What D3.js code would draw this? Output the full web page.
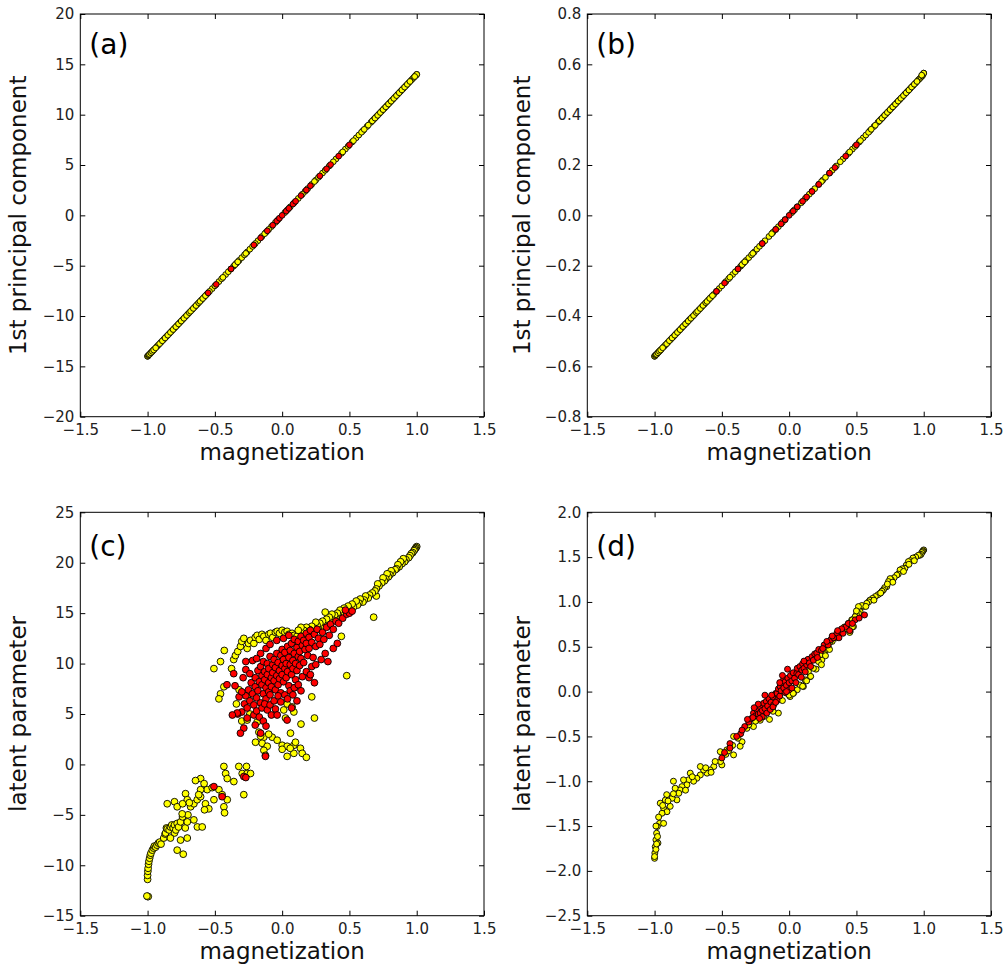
<!DOCTYPE html>
<html>
<head>
<meta charset="utf-8">
<script src="https://cdn.jsdelivr.net/npm/d3@7"></script>
<style>
  html, body { margin: 0; padding: 0; background: #ffffff; }
  svg { display: block; }
  text { font-family: "DejaVu Sans", sans-serif; }
</style>
</head>
<body>
<svg id="chart" width="1004" height="969"></svg>
<script>
// ---------------- DATA ----------------
const xTicks = [-1.5, -1.0, -0.5, 0.0, 0.5, 1.0, 1.5];
const yTicksA = [-20, -15, -10, -5, 0, 5, 10, 15, 20];
const yTicksB = [-0.8, -0.6, -0.4, -0.2, 0.0, 0.2, 0.4, 0.6, 0.8];
const yTicksC = [-15, -10, -5, 0, 5, 10, 15, 20, 25];
const yTicksD = [-2.5, -2.0, -1.5, -1.0, -0.5, 0.0, 0.5, 1.0, 1.5, 2.0];

const panelLabels = ["(a)", "(b)", "(c)", "(d)"];
const xLabel = "magnetization";
const yLabels = ["1st principal component", "1st principal component", "latent parameter", "latent parameter"];

// (a) magnetization vs 1st principal component
const yellowA = [
  [-1.0,-14.0],[-1.0,-14.0],[-0.995,-13.93],[-0.99,-13.86],[-0.98,-13.72],[-0.97,-13.58],[-0.96,-13.44],[-0.95,-13.3],
  [-0.93,-13.02],[-0.92,-12.88],[-0.9,-12.6],[-0.88,-12.32],[-0.86,-12.04],[-0.84,-11.76],[-0.82,-11.48],[-0.8,-11.2],
  [-0.78,-10.92],[-0.76,-10.64],[-0.74,-10.36],[-0.72,-10.08],[-0.7,-9.8],[-0.67,-9.38],[-0.65,-9.1],[-0.63,-8.82],
  [-0.6,-8.4],[-0.58,-8.12],[-0.56,-7.84],[-0.52,-7.28],[-0.47,-6.58],[-0.45,-6.3],[-0.42,-5.88],[-0.4,-5.6],
  [-0.36,-5.04],[-0.34,-4.76],[-0.32,-4.48],[-0.3,-4.2],[-0.28,-3.92],[-0.26,-3.64],[-0.24,-3.36],[-0.18,-2.52],
  [-0.15,-2.1],[-0.12,-1.68],[-0.08,-1.12],[-0.05,-0.7],[0.02,0.28],[0.06,0.84],[0.12,1.68],[0.17,2.38],
  [0.22,3.08],[0.25,3.5],[0.3,4.2],[0.35,4.9],[0.4,5.6],[0.44,6.16],[0.47,6.58],[0.52,7.28],
  [0.55,7.7],[0.57,7.98],[0.6,8.4],[0.63,8.82],[0.66,9.24],[0.68,9.52],[0.7,9.8],[0.72,10.08],
  [0.74,10.36],[0.76,10.64],[0.78,10.92],[0.8,11.2],[0.82,11.48],[0.84,11.76],[0.86,12.04],[0.88,12.32],
  [0.9,12.6],[0.92,12.88],[0.94,13.16],[0.96,13.44],[0.97,13.58],[0.98,13.72],[0.99,13.86],[0.995,13.93],
  [1.0,14.0],[1.0,14.0],
  [-0.985,-13.79],[-0.975,-13.65],[-0.965,-13.51],[-0.955,-13.37],[-0.94,-13.16],[-0.91,-12.74],[-0.89,-12.46],[-0.87,-12.18],
  [-0.85,-11.9],[-0.83,-11.62],[-0.81,-11.34],[-0.79,-11.06],[-0.77,-10.78],[-0.75,-10.5],[-0.73,-10.22],[-0.71,-9.94],
  [-0.69,-9.66],[-0.68,-9.52],[-0.66,-9.24],[-0.64,-8.96],[-0.62,-8.68],[-0.61,-8.54],[-0.59,-8.26],[-0.57,-7.98],
  [-0.54,-7.56],[-0.5,-7.0],[-0.44,-6.16],[-0.38,-5.32],[-0.35,-4.9],[-0.33,-4.62],[-0.27,-3.78],[-0.22,-3.08],
  [-0.2,-2.8],[-0.13,-1.82],[-0.1,-1.4],[-0.03,-0.42],[0.04,0.56],[0.09,1.26],[0.15,2.1],[0.19,2.66],
  [0.24,3.36],[0.27,3.78],[0.32,4.48],[0.38,5.32],[0.45,6.3],[0.49,6.86],[0.53,7.42],[0.59,8.26],
  [0.61,8.54],[0.64,8.96],[0.67,9.38],[0.69,9.66],[0.71,9.94],[0.73,10.22],[0.75,10.5],[0.77,10.78],
  [0.79,11.06],[0.81,11.34],[0.83,11.62],[0.85,11.9],[0.87,12.18],[0.89,12.46],[0.91,12.74],[0.93,13.02],
  [0.95,13.3],[0.985,13.79]
];
const redA = [
  [-0.55,-7.7],[-0.49,-6.86],[-0.38,-5.32],[-0.21,-2.94],[-0.16,-2.24],[-0.11,-1.54],[-0.07,-0.98],[-0.04,-0.56],
  [-0.02,-0.28],[0.0,0.0],[0.03,0.42],[0.05,0.7],[0.08,1.12],[0.1,1.4],[0.14,1.96],[0.18,2.52],
  [0.21,2.94],[0.28,3.92],[0.33,4.62],[0.36,5.04],[0.42,5.88],[0.5,7.0]
];

// (b) magnetization vs 1st principal component (normalised)
const yellowB = [
  [-1.0,-0.56],[-1.0,-0.56],[-0.995,-0.557],[-0.99,-0.554],[-0.98,-0.549],[-0.97,-0.543],[-0.96,-0.538],[-0.95,-0.532],
  [-0.93,-0.521],[-0.92,-0.515],[-0.9,-0.504],[-0.88,-0.493],[-0.86,-0.482],[-0.84,-0.470],[-0.82,-0.459],[-0.8,-0.448],
  [-0.78,-0.437],[-0.76,-0.426],[-0.74,-0.414],[-0.72,-0.403],[-0.7,-0.392],[-0.67,-0.375],[-0.65,-0.364],[-0.63,-0.353],
  [-0.6,-0.336],[-0.58,-0.325],[-0.56,-0.314],[-0.52,-0.291],[-0.47,-0.263],[-0.45,-0.252],[-0.42,-0.235],[-0.4,-0.224],
  [-0.36,-0.202],[-0.34,-0.190],[-0.32,-0.179],[-0.3,-0.168],[-0.28,-0.157],[-0.26,-0.146],[-0.24,-0.134],[-0.18,-0.101],
  [-0.15,-0.084],[-0.12,-0.067],[-0.08,-0.045],[-0.05,-0.028],[0.02,0.011],[0.06,0.034],[0.12,0.067],[0.17,0.095],
  [0.22,0.123],[0.25,0.14],[0.3,0.168],[0.35,0.196],[0.4,0.224],[0.44,0.246],[0.47,0.263],[0.52,0.291],
  [0.55,0.308],[0.57,0.319],[0.6,0.336],[0.63,0.353],[0.66,0.37],[0.68,0.381],[0.7,0.392],[0.72,0.403],
  [0.74,0.414],[0.76,0.426],[0.78,0.437],[0.8,0.448],[0.82,0.459],[0.84,0.47],[0.86,0.482],[0.88,0.493],
  [0.9,0.504],[0.92,0.515],[0.94,0.526],[0.96,0.538],[0.97,0.543],[0.98,0.549],[0.99,0.554],[0.995,0.56],
  [1.0,0.565],[1.0,0.565],
  [-0.985,-0.552],[-0.975,-0.546],[-0.965,-0.540],[-0.955,-0.535],[-0.94,-0.526],[-0.91,-0.510],[-0.89,-0.498],[-0.87,-0.487],
  [-0.85,-0.476],[-0.83,-0.465],[-0.81,-0.454],[-0.79,-0.442],[-0.77,-0.431],[-0.75,-0.42],[-0.73,-0.409],[-0.71,-0.398],
  [-0.69,-0.386],[-0.68,-0.381],[-0.66,-0.370],[-0.64,-0.358],[-0.62,-0.347],[-0.61,-0.342],[-0.59,-0.330],[-0.57,-0.319],
  [-0.54,-0.302],[-0.5,-0.28],[-0.44,-0.246],[-0.38,-0.213],[-0.35,-0.196],[-0.33,-0.185],[-0.27,-0.151],[-0.22,-0.123],
  [-0.2,-0.112],[-0.13,-0.073],[-0.1,-0.056],[-0.03,-0.017],[0.04,0.022],[0.09,0.05],[0.15,0.084],[0.19,0.106],
  [0.24,0.134],[0.27,0.151],[0.32,0.179],[0.38,0.213],[0.45,0.252],[0.49,0.274],[0.53,0.297],[0.59,0.330],
  [0.61,0.342],[0.64,0.358],[0.67,0.375],[0.69,0.386],[0.71,0.398],[0.73,0.409],[0.75,0.42],[0.77,0.431],
  [0.79,0.442],[0.81,0.454],[0.83,0.465],[0.85,0.476],[0.87,0.487],[0.89,0.498],[0.91,0.510],[0.93,0.521],
  [0.95,0.532],[0.985,0.557]
];
const redB = [
  [-0.54,-0.302],[-0.48,-0.269],[-0.38,-0.213],[-0.2,-0.112],[-0.1,-0.056],[-0.06,-0.034],[-0.03,-0.017],[0.0,0.0],
  [0.03,0.017],[0.06,0.034],[0.1,0.056],[0.13,0.073],[0.17,0.095],[0.22,0.123],[0.3,0.168],[0.34,0.19],
  [0.42,0.235],[0.5,0.28]
];

// (c) magnetization vs latent parameter (network 1)
const yellowC = [
  [1.0,21.6],[0.995,21.5],[0.99,21.4],[0.985,21.3],[0.98,21.2],[0.97,21.0],[0.96,20.9],[0.95,20.7],[0.94,20.5],
  [0.92,20.3],[0.91,20.1],[0.9,20.4],[0.89,19.9],[0.88,20.1],[0.87,19.6],[0.86,19.8],[0.85,19.4],[0.84,19.3],
  [0.82,19.0],[0.81,19.2],[0.8,18.8],[0.79,18.6],[0.78,18.9],[0.77,18.4],[0.76,18.2],[0.75,18.5],[0.74,18.0],
  [0.72,17.7],[0.71,17.9],[0.7,17.4],[0.7,16.7],[0.69,17.2],[0.68,14.6],[0.67,17.0],[0.65,16.8],[0.64,16.5],
  [0.62,16.7],[0.61,16.3],[0.6,16.1],[0.58,16.4],[0.57,16.0],[0.56,15.8],[0.55,16.2],[0.53,15.6],[0.52,15.9],
  [0.5,15.4],[0.49,15.7],[0.48,8.8],[0.47,15.1],[0.46,15.5],[0.45,14.9],[0.44,12.7],[0.43,15.3],[0.42,14.7],
  [0.41,15.0],[0.4,14.5],[0.39,14.8],[0.38,14.3],[0.37,14.9],[0.36,14.1],[0.35,14.6],[0.34,13.9],[0.33,14.4],
  [0.32,15.1],[0.31,13.8],[0.3,14.2],[0.29,13.6],[0.28,14.0],[0.27,13.4],[0.26,13.8],[0.25,14.1],[0.24,13.5],
  [0.23,13.2],[0.22,13.7],[0.21,13.0],[0.2,13.4],[0.19,13.1],[0.18,13.6],[0.17,12.9],[0.16,13.3],[0.14,13.6],
  [0.22,6.7],[0.24,4.6],[0.14,4.0],[0.09,7.6],
  [-0.36,10.4],[-0.347,10.8],[-0.33,11.2],[-0.31,11.7],[-0.3,12.2],[-0.285,12.5],[-0.26,11.5],[-0.25,12.0],
  [-0.235,12.3],[-0.21,12.0],[-0.2,12.6],[-0.186,12.8],[-0.17,12.4],[-0.15,12.9],[-0.136,12.7],[-0.12,12.3],
  [-0.1,12.9],[-0.087,13.0],[-0.07,12.6],[-0.05,13.1],[-0.037,13.2],[-0.02,13.0],[0.0,13.3],[0.02,13.1],
  [0.037,13.2],[0.05,12.9],[0.074,13.0],[0.09,12.8],[0.11,12.7],[0.12,13.3],
  [-0.43,11.3],[-0.458,10.2],[-0.507,9.5],[-0.376,9.5],[-0.433,7.7],[-0.458,7.0],[-0.47,6.5],[-0.32,7.4],
  [-0.34,6.0],[-0.3,4.3],[-0.26,4.4],[-0.24,5.0],[-0.25,6.9],
  [-0.186,4.2],[-0.173,3.2],[-0.136,2.7],[-0.149,2.1],[-0.111,1.8],[-0.136,1.4],[-0.124,0.9],[-0.198,2.2],
  [-0.074,2.7],[-0.037,2.4],[0.0,1.9],[0.037,1.8],[0.037,0.8],[0.087,1.9],[0.099,2.2],[0.087,1.1],
  [0.136,1.6],[0.149,1.1],[0.18,0.7],[0.062,3.1],[0.025,4.6],[0.012,5.4],[0.037,6.0],[0.074,5.7],
  [0.087,5.2],[-0.1,3.0],[-0.16,2.8],[0.0,1.5],[0.06,1.6],
  [-1.0,-13.1],[-0.995,-13.1],[-1.005,-13.05],[-1.0,-11.4],[-1.0,-11.0],[-0.998,-10.6],[-0.996,-10.3],
  [-0.993,-9.9],[-0.99,-9.6],[-0.985,-9.3],[-0.98,-9.0],[-0.975,-8.8],[-0.965,-8.5],[-0.955,-8.3],[-0.95,-8.1],
  [-0.94,-8.2],[-0.93,-8.0],[-0.92,-7.8],[-0.91,-7.7],[-0.9,-7.9],[-0.88,-7.3],[-0.87,-6.9],[-0.866,-6.8],
  [-0.86,-6.3],[-0.854,-6.4],[-0.84,-6.5],[-0.83,-6.2],[-0.82,-6.0],[-0.81,-6.3],[-0.80,-6.0],[-0.80,-6.8],
  [-0.79,-6.5],[-0.78,-5.85],[-0.77,-6.2],[-0.755,-5.7],[-0.83,-7.3],[-0.755,-7.5],[-0.705,-7.3],[-0.78,-8.5],
  [-0.735,-8.9],[-0.72,-6.3],[-0.63,-6.2],[-0.594,-6.2],[-0.705,-5.7],[-0.656,-5.5],[-0.74,-5.2],[-0.7,-5.0],
  [-0.854,-3.9],[-0.80,-3.7],[-0.78,-4.2],[-0.743,-4.9],[-0.718,-2.9],[-0.705,-3.5],[-0.68,-4.2],[-0.656,-3.9],
  [-0.631,-3.5],[-0.606,-3.2],[-0.606,-1.4],[-0.58,-1.9],[-0.557,-2.5],[-0.606,-2.5],[-0.57,-3.9],[-0.545,-4.4],
  [-0.577,-4.5],[-0.507,-3.5],[-0.47,-2.5],[-0.446,-3.0],[-0.433,-0.2],[-0.42,-0.9],[-0.408,-1.4],[-0.433,-4.2],
  [-0.428,-4.8],[-0.408,-3.5],[-0.359,-1.7],[-0.322,-0.2],[-0.265,-0.2],[-0.297,-0.9],[-0.26,-0.9],[-0.235,-0.9],
  [-0.285,-3.0],[-0.644,-1.6],[-0.69,-3.8],[-0.74,-3.9],[-0.52,-2.3],[-0.62,-3.0]
];
const redC = [
  [-0.30,5.2],[-0.28,6.0],[-0.27,6.8],[-0.26,5.6],[-0.25,7.4],[-0.24,6.3],[-0.23,8.1],[-0.22,7.0],
  [-0.21,5.9],[-0.2,7.7],[-0.2,8.6],[-0.19,6.6],[-0.18,9.3],[-0.18,7.3],[-0.17,8.2],[-0.16,6.1],
  [-0.16,9.7],[-0.15,7.9],[-0.15,8.8],[-0.14,7.0],[-0.14,10.2],[-0.13,8.4],[-0.13,9.2],[-0.12,6.5],
  [-0.12,7.6],[-0.11,8.9],[-0.11,10.0],[-0.1,7.2],[-0.1,8.1],[-0.1,9.5],[-0.09,10.7],[-0.09,6.9],
  [-0.08,8.6],[-0.08,7.7],[-0.07,9.9],[-0.07,9.1],[-0.06,8.3],[-0.06,10.4],[-0.05,7.4],[-0.05,9.6],
  [-0.04,8.8],[-0.04,11.0],[-0.03,7.9],[-0.03,10.1],[-0.02,9.3],[-0.02,8.5],[-0.01,10.8],[-0.01,7.1],
  [0.0,9.8],[0.0,8.9],[0.0,11.4],[0.01,8.2],[0.01,10.4],[0.02,9.5],[0.02,11.1],[0.03,8.6],
  [0.03,10.0],[0.04,11.7],[0.04,9.2],[0.05,10.6],[0.05,7.8],[0.06,9.9],[0.06,11.3],[0.07,8.9],
  [0.07,12.0],[0.08,10.3],[0.08,9.5],[0.09,11.0],[0.09,12.4],[0.1,10.0],[0.1,8.4],[0.11,11.6],
  [0.11,9.3],[0.12,10.7],[0.12,12.2],[0.13,11.2],[0.13,9.8],[0.14,12.7],[0.14,10.5],[0.15,11.8],
  [0.16,12.3],[0.16,10.1],[0.17,11.4],[0.18,13.0],[0.18,12.0],[0.19,10.8],[0.2,12.6],[0.2,11.5],
  [0.21,13.3],[0.22,12.1],[0.23,10.6],[0.24,12.9],[0.25,11.7],[0.26,13.4],[0.27,12.5],[0.28,11.9],
  [0.3,13.1],[0.31,12.4],[0.33,13.6],[0.35,12.8],[0.36,13.9],[0.38,13.4],[0.4,14.2],[0.42,14.0],
  [-0.35,7.8],[-0.33,5.0],[-0.32,6.7],[-0.3,7.2],[-0.29,8.6],[-0.27,9.4],[-0.26,4.6],[-0.24,9.0],
  [-0.22,10.3],[-0.21,4.9],[-0.19,5.3],[-0.17,4.7],[-0.15,5.6],[-0.14,4.3],[-0.13,6.0],[-0.11,5.4],
  [-0.09,5.9],[-0.08,4.9],[-0.06,6.3],[-0.05,5.5],[-0.03,6.8],[-0.01,6.2],[0.02,6.9],[0.04,6.5],
  [0.06,7.3],[0.08,6.9],[0.09,7.6],[0.12,7.9],[0.15,8.7],[0.18,9.2],[0.2,8.6],[0.22,9.7],
  [0.25,9.9],[0.24,8.1],[0.21,8.9],[0.14,7.3],[0.29,10.4],[0.32,11.0],[0.38,11.5],[0.41,12.0],
  [0.34,10.2],[-0.16,11.0],[-0.19,10.5],[-0.12,11.5],[-0.09,11.9],[-0.04,12.3],[0.01,12.5],[0.05,12.8],
  [-0.27,10.2],[-0.36,9.0],[-0.41,7.9],[-0.334,5.1],[-0.37,4.9],[-0.285,3.6],[-0.31,3.1],[-0.12,3.8],
  [-0.124,0.8],[0.037,4.4],[-0.037,4.9],[-0.16,3.1],[-0.2,3.9],[0.07,5.6],[0.11,6.3],[0.45,14.5],
  [0.48,14.9],[0.5,15.0],[0.52,15.2],[0.47,15.3],
  [-0.507,-2.2],[-0.446,-3.2],[-0.285,-1.2],[-0.27,-1.3]
];

// (d) magnetization vs latent parameter (network 2)
const yellowD = [
  [1.0,1.58],[0.995,1.57],[0.99,1.56],[0.985,1.55],[0.98,1.53],[0.97,1.52],[0.96,1.52],[0.94,1.5],
  [0.92,1.49],[0.9,1.46],[0.886,1.45],[0.87,1.41],[0.86,1.375],[0.84,1.37],[0.824,1.357],[0.81,1.31],
  [0.8,1.30],[0.78,1.27],[0.76,1.245],[0.75,1.26],[0.738,1.227],[0.725,1.17],[0.71,1.16],[0.70,1.134],
  [0.69,1.12],[0.676,1.097],[0.66,1.08],[0.64,1.06],[0.62,1.04],[0.60,1.02],[0.59,1.0],[0.577,0.985],
  [0.552,0.948],[0.54,0.96],[0.527,0.892],[0.515,0.948],[0.515,0.874],[0.5,0.86],[0.49,0.836],[0.478,0.725],
  [0.465,0.80],[0.453,0.67],[0.44,0.76],[0.428,0.706],[0.41,0.72],[0.39,0.688],[0.38,0.66],[0.366,0.632],
  [0.35,0.6],[0.33,0.595],[0.33,0.613],[0.32,0.56],[0.304,0.558],[0.29,0.5],[0.28,0.50],[0.27,0.46],
  [0.255,0.43],[0.243,0.353],[0.23,0.41],[0.218,0.335],[0.2,0.25],[0.18,0.26],[0.156,0.167],[0.143,0.223],
  [0.119,0.13],[0.106,0.056],[0.08,0.074],[0.06,0.02],[0.032,-0.019],[0.007,-0.056],[-0.017,-0.019],
  [0.93,1.46],[0.89,1.42],[0.85,1.34],[0.77,1.22],[0.73,1.2],[0.68,1.1],[0.63,1.02],[0.57,0.95],
  [0.5,0.9],[0.47,0.8],
  [-0.08,-0.24],[-0.146,-0.31],[-0.215,-0.32],[-0.265,-0.39],[-0.314,-0.41],[-0.35,-0.56],[-0.364,-0.61],
  [-0.413,-0.5],[-0.413,-0.706],[-0.463,-0.65],[-0.512,-0.67],[-0.50,-0.818],[-0.51,-0.78],[-0.56,-0.836],
  [-0.587,-0.874],[-0.61,-0.91],[-0.636,-0.874],[-0.66,-0.836],[-0.66,-0.93],[-0.686,-0.967],[-0.71,-1.0],
  [-0.735,-0.91],[-0.748,-0.985],[-0.76,-1.04],[-0.797,-1.06],[-0.81,-1.097],[-0.785,-0.985],[-0.86,-1.0],
  [-0.847,-1.078],[-0.82,-1.134],[-0.834,-1.208],[-0.87,-1.19],[-0.91,-1.15],[-0.92,-1.21],[-0.958,-1.245],
  [-0.933,-1.30],[-0.908,-1.34],[-0.884,-1.28],[-0.945,-1.357],[-0.963,-1.47],[-0.98,-1.505],[-0.985,-1.58],
  [-0.99,-1.654],[-0.995,-1.73],[-0.998,-1.80],[-1.0,-1.86],[-1.0,-1.84],[-0.978,-1.617],[-0.975,-1.69],
  [-0.933,-1.47],[-0.99,-1.76],[-0.985,-1.7],[-0.99,-1.5],[-0.97,-1.4],[-0.94,-1.27],[-0.9,-1.22],
  [-0.86,-1.14],[-0.77,-1.1],[-0.72,-0.95],[-0.62,-0.85],[-0.58,-0.9],[-0.55,-0.78],[-0.47,-0.7],
  [-0.45,-0.66],[-0.42,-0.6],[-0.38,-0.52],[-0.3,-0.37],[-0.25,-0.33],[-0.19,-0.28],[-0.12,-0.22],
  [-0.05,-0.1],[0.0,-0.04],[0.03,-0.02],[0.1,0.06],[0.13,0.12],[0.16,0.17],[0.24,0.3],[0.27,0.4],
  [0.3,0.47],[0.36,0.62],[0.4,0.69],[0.43,0.7],[0.45,0.66],[0.47,0.72]
];
const redD = [
  [-0.5,-0.74],[-0.44,-0.58],[-0.44,-0.63],[-0.36,-0.47],[-0.33,-0.39],[-0.3,-0.34],[-0.28,-0.30],[-0.265,-0.24],
  [-0.25,-0.27],[-0.24,-0.2],[-0.23,-0.25],[-0.215,-0.17],[-0.215,-0.24],[-0.2,-0.21],[-0.19,-0.13],[-0.18,-0.19],
  [-0.17,-0.11],[-0.166,-0.24],[-0.16,-0.16],[-0.15,-0.08],[-0.14,-0.2],[-0.135,-0.12],[-0.12,-0.06],[-0.116,-0.15],
  [-0.1,-0.02],[-0.09,-0.1],[-0.09,-0.019],[-0.08,0.03],[-0.07,-0.05],[-0.067,0.056],[-0.06,0.01],[-0.05,0.09],
  [-0.042,0.13],[-0.04,0.04],[-0.03,0.11],[-0.02,0.07],[-0.012,0.25],[-0.01,0.15],[0.0,0.1],[0.01,0.18],
  [0.02,0.12],[0.03,0.21],[0.04,0.15],[0.057,0.204],[0.06,0.26],[0.07,0.19],[0.08,0.28],[0.094,0.24],
  [0.1,0.31],[0.11,0.26],[0.13,0.30],[0.14,0.36],[0.15,0.32],[0.17,0.39],[0.18,0.35],[0.19,0.42],
  [0.205,0.43],[0.22,0.47],[0.24,0.46],[0.26,0.52],[0.29,0.52],[0.31,0.58],[0.354,0.65],[0.37,0.6],
  [0.4,0.65],[0.42,0.72],[0.45,0.68],[0.49,0.80],[0.52,0.82],[0.56,0.855],
  [-0.27,-0.29],[-0.12,-0.17],[-0.2,-0.28],[-0.1,-0.12],[0.0,0.02],[0.05,0.1],[-0.03,-0.01],[0.12,0.22],
  [0.16,0.28],[-0.05,0.18],[-0.13,-0.04],[-0.23,-0.14],[-0.35,-0.43],[-0.39,-0.5],[-0.48,-0.68],[0.33,0.6],
  [0.39,0.7],[0.21,0.38],[0.09,0.16],[-0.07,0.1],[-0.18,-0.04],
  [0.25,0.48],[0.28,0.56],[0.32,0.62],[0.44,0.76],[0.47,0.76],[0.36,0.68],[-0.22,-0.3],[-0.31,-0.31],
  [-0.26,-0.18],[0.02,0.04],[-0.02,0.0],[0.11,0.34]
];

// ---------------- LAYOUT ----------------
const panels = [
  { label: panelLabels[0], yLabel: yLabels[0], yTicks: yTicksA, yFmt: d3.format("d"),   yellow: yellowA, red: redA, box: [80.3, 14, 484, 416.7],   r: 2.9, labelDy: 40, yLabelX: 26 },
  { label: panelLabels[1], yLabel: yLabels[1], yTicks: yTicksB, yFmt: d3.format(".1f"), yellow: yellowB, red: redB, box: [587.3, 14, 991, 416.7],  r: 2.9, labelDy: 40, yLabelX: 530 },
  { label: panelLabels[2], yLabel: yLabels[2], yTicks: yTicksC, yFmt: d3.format("d"),   yellow: yellowC, red: redC, box: [80.3, 512.3, 484, 915.7],  r: 3.4, labelDy: 44, yLabelX: 26 },
  { label: panelLabels[3], yLabel: yLabels[3], yTicks: yTicksD, yFmt: d3.format(".1f"), yellow: yellowD, red: redD, box: [587.3, 512.3, 991, 915.7], r: 3.0, labelDy: 44, yLabelX: 530 }
];

const svg = d3.select("#chart");
svg.append("rect").attr("width", 1004).attr("height", 969).attr("fill", "#ffffff");

panels.forEach(p => {
  const [x0, y0, x1, y1] = p.box;
  const x = d3.scaleLinear().domain([xTicks[0], xTicks[xTicks.length - 1]]).range([x0, x1]);
  const y = d3.scaleLinear().domain([p.yTicks[0], p.yTicks[p.yTicks.length - 1]]).range([y1, y0]);
  const g = svg.append("g");

  // points
  const pts = g.append("g");
  pts.selectAll("circle.y").data(p.yellow).join("circle")
    .attr("cx", d => x(d[0])).attr("cy", d => y(d[1])).attr("r", p.r)
    .attr("fill", "#ffff00").attr("stroke", "#000").attr("stroke-width", 0.9);
  pts.selectAll("circle.r").data(p.red).join("circle")
    .attr("cx", d => x(d[0])).attr("cy", d => y(d[1])).attr("r", p.r)
    .attr("fill", "#ff0000").attr("stroke", "#000").attr("stroke-width", 0.9);

  // axes (ticks inward on all four sides)
  const bottom = g.append("g").attr("transform", `translate(0,${y1})`)
    .call(d3.axisBottom(x).tickValues(xTicks).tickFormat(d3.format(".1f")).tickSizeInner(-5).tickSizeOuter(0).tickPadding(8));
  const top = g.append("g").attr("transform", `translate(0,${y0})`)
    .call(d3.axisTop(x).tickValues(xTicks).tickFormat("").tickSizeInner(-5).tickSizeOuter(0));
  const left = g.append("g").attr("transform", `translate(${x0},0)`)
    .call(d3.axisLeft(y).tickValues(p.yTicks).tickFormat(p.yFmt).tickSizeInner(-5).tickSizeOuter(0).tickPadding(6));
  const right = g.append("g").attr("transform", `translate(${x1},0)`)
    .call(d3.axisRight(y).tickValues(p.yTicks).tickFormat("").tickSizeInner(-5).tickSizeOuter(0));

  [bottom, top, left, right].forEach(a => {
    a.select(".domain").remove();
    a.selectAll(".tick line").attr("stroke", "#000").attr("stroke-width", 1);
    a.selectAll(".tick text").attr("fill", "#222").style("font-size", "15px").style("font-family", "DejaVu Sans");
  });

  // frame
  g.append("rect").attr("x", x0).attr("y", y0).attr("width", x1 - x0).attr("height", y1 - y0)
    .attr("fill", "none").attr("stroke", "#000").attr("stroke-width", 1);

  // panel label
  g.append("text").attr("x", x0 + 9).attr("y", y0 + p.labelDy)
    .style("font-size", "28px").attr("fill", "#000").text(p.label);

  // axis labels
  g.append("text").attr("x", (x0 + x1) / 2).attr("y", y1 + 43).attr("text-anchor", "middle")
    .style("font-size", "23px").attr("fill", "#111").text(xLabel);
  g.append("text").attr("transform", `translate(${p.yLabelX},${(y0 + y1) / 2}) rotate(-90)`)
    .attr("text-anchor", "middle").style("font-size", "23px").attr("fill", "#111").text(p.yLabel);
});
</script>
</body>
</html>
